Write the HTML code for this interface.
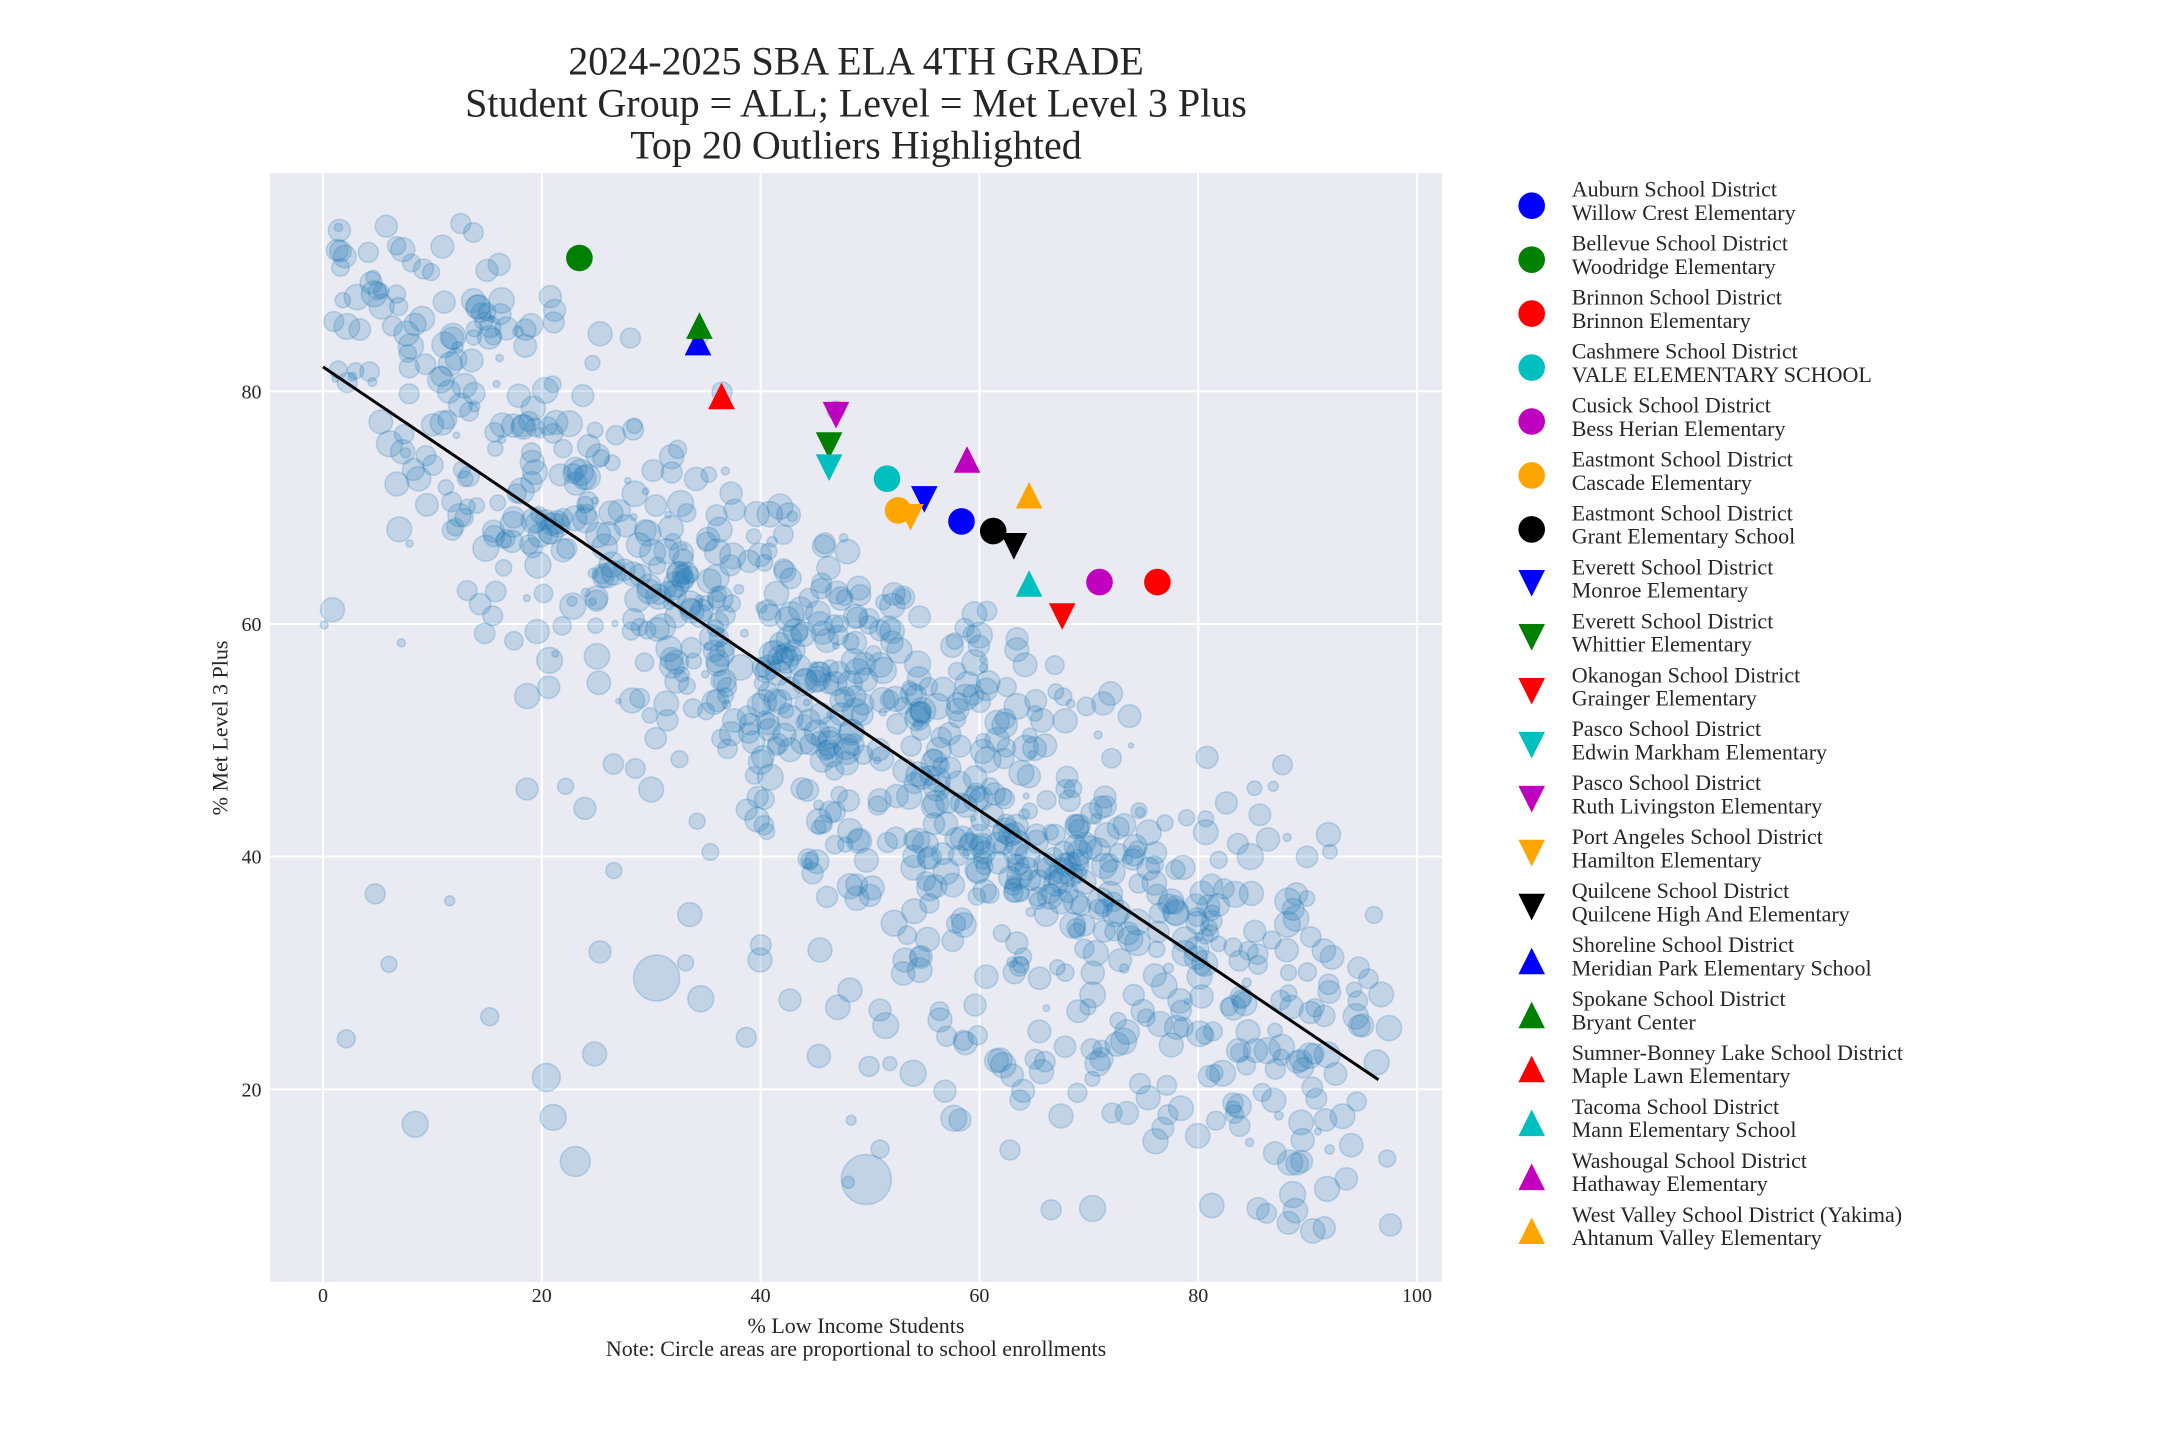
<!DOCTYPE html>
<html><head><meta charset="utf-8">
<style>
html,body{margin:0;padding:0;background:#fff;width:2160px;height:1440px;overflow:hidden;}
svg{display:block;}
text{font-family:"Liberation Serif","Times New Roman",serif;fill:#262626;}
</style></head><body>
<svg id="s" width="2160" height="1440" viewBox="0 0 2160 1440" xmlns="http://www.w3.org/2000/svg">
<defs><clipPath id="c"><rect x="270" y="173" width="1172" height="1109"/></clipPath></defs>
<rect x="270" y="173" width="1172" height="1109" fill="#eaeaf2"/>
<g stroke="#ffffff" stroke-width="2">
<line x1="323" y1="173" x2="323" y2="1282"/>
<line x1="541.8" y1="173" x2="541.8" y2="1282"/>
<line x1="760.6" y1="173" x2="760.6" y2="1282"/>
<line x1="979.4" y1="173" x2="979.4" y2="1282"/>
<line x1="1198.2" y1="173" x2="1198.2" y2="1282"/>
<line x1="1417" y1="173" x2="1417" y2="1282"/>
<line x1="270" y1="391.3" x2="1442" y2="391.3"/>
<line x1="270" y1="624" x2="1442" y2="624"/>
<line x1="270" y1="856.6" x2="1442" y2="856.6"/>
<line x1="270" y1="1089.3" x2="1442" y2="1089.3"/>
</g>
<g id="b" clip-path="url(#c)" fill="rgba(31,119,180,0.2)" stroke="rgba(31,119,180,0.22)" stroke-width="1.6"></g>
<line x1="323" y1="366.9" x2="1378.5" y2="1079.8" stroke="#000" stroke-width="3"/>

<!-- outlier markers -->
<g>
<circle cx="961.5" cy="521.4" r="13.3" fill="#0000ff"/>
<circle cx="579.4" cy="258.0" r="13.3" fill="#008000"/>
<circle cx="1157.4" cy="582.1" r="13.3" fill="#ff0000"/>
<circle cx="887.0" cy="478.7" r="13.3" fill="#00bfbf"/>
<circle cx="1099.5" cy="582.1" r="13.3" fill="#bf00bf"/>
<circle cx="898.1" cy="510.4" r="13.3" fill="#ffa500"/>
<circle cx="993.2" cy="531.1" r="13.3" fill="#000000"/>
<g transform="translate(924.3,499.4)"><polygon points="0,13.3 -13.3,-13.3 13.3,-13.3" fill="#0000ff"/></g>
<g transform="translate(829.1,445.6)"><polygon points="0,13.3 -13.3,-13.3 13.3,-13.3" fill="#008000"/></g>
<g transform="translate(1062.2,616.6)"><polygon points="0,13.3 -13.3,-13.3 13.3,-13.3" fill="#ff0000"/></g>
<g transform="translate(829.1,467.7)"><polygon points="0,13.3 -13.3,-13.3 13.3,-13.3" fill="#00bfbf"/></g>
<g transform="translate(836.0,415.2)"><polygon points="0,13.3 -13.3,-13.3 13.3,-13.3" fill="#bf00bf"/></g>
<g transform="translate(910.5,517.3)"><polygon points="0,13.3 -13.3,-13.3 13.3,-13.3" fill="#ffa500"/></g>
<g transform="translate(1013.9,546.3)"><polygon points="0,13.3 -13.3,-13.3 13.3,-13.3" fill="#000000"/></g>
<g transform="translate(698.0,342.1)"><polygon points="0,-13.3 -13.3,13.3 13.3,13.3" fill="#0000ff"/></g>
<g transform="translate(699.4,325.6)"><polygon points="0,-13.3 -13.3,13.3 13.3,13.3" fill="#008000"/></g>
<g transform="translate(721.5,395.9)"><polygon points="0,-13.3 -13.3,13.3 13.3,13.3" fill="#ff0000"/></g>
<g transform="translate(1029.1,583.5)"><polygon points="0,-13.3 -13.3,13.3 13.3,13.3" fill="#00bfbf"/></g>
<g transform="translate(967.0,459.4)"><polygon points="0,-13.3 -13.3,13.3 13.3,13.3" fill="#bf00bf"/></g>
<g transform="translate(1029.1,495.2)"><polygon points="0,-13.3 -13.3,13.3 13.3,13.3" fill="#ffa500"/></g>
</g>

<!-- tick labels -->
<g font-size="20" text-anchor="middle">
<text x="323" y="1302">0</text>
<text x="541.8" y="1302">20</text>
<text x="760.6" y="1302">40</text>
<text x="979.4" y="1302">60</text>
<text x="1198.2" y="1302">80</text>
<text x="1417" y="1302">100</text>
</g>
<g font-size="20" text-anchor="end">
<text x="261.5" y="398.3">80</text>
<text x="261.5" y="631">60</text>
<text x="261.5" y="863.6">40</text>
<text x="261.5" y="1096.3">20</text>
</g>
<g font-size="22" text-anchor="middle">
<text x="856" y="1333">% Low Income Students</text>
<text x="856" y="1356">Note: Circle areas are proportional to school enrollments</text>
<text transform="translate(227.5,728) rotate(-90)">% Met Level 3 Plus</text>
</g>
<g font-size="40" text-anchor="middle">
<text x="856" y="74.3">2024-2025 SBA ELA 4TH GRADE</text>
<text x="856" y="116.7">Student Group = ALL; Level = Met Level 3 Plus</text>
<text x="856" y="158.3">Top 20 Outliers Highlighted</text>
</g>

<!-- legend -->
<g font-size="22">
<g transform="translate(0,205.7)"><circle cx="1531.7" cy="0" r="13.3" fill="#0000ff"/><text x="1571.7" y="-9">Auburn School District</text><text x="1571.7" y="14.3">Willow Crest Elementary</text></g>
<g transform="translate(0,259.65)"><circle cx="1531.7" cy="0" r="13.3" fill="#008000"/><text x="1571.7" y="-9">Bellevue School District</text><text x="1571.7" y="14.3">Woodridge Elementary</text></g>
<g transform="translate(0,313.6)"><circle cx="1531.7" cy="0" r="13.3" fill="#ff0000"/><text x="1571.7" y="-9">Brinnon School District</text><text x="1571.7" y="14.3">Brinnon Elementary</text></g>
<g transform="translate(0,367.55)"><circle cx="1531.7" cy="0" r="13.3" fill="#00bfbf"/><text x="1571.7" y="-9">Cashmere School District</text><text x="1571.7" y="14.3">VALE ELEMENTARY SCHOOL</text></g>
<g transform="translate(0,421.5)"><circle cx="1531.7" cy="0" r="13.3" fill="#bf00bf"/><text x="1571.7" y="-9">Cusick School District</text><text x="1571.7" y="14.3">Bess Herian Elementary</text></g>
<g transform="translate(0,475.45)"><circle cx="1531.7" cy="0" r="13.3" fill="#ffa500"/><text x="1571.7" y="-9">Eastmont School District</text><text x="1571.7" y="14.3">Cascade Elementary</text></g>
<g transform="translate(0,529.4)"><circle cx="1531.7" cy="0" r="13.3" fill="#000000"/><text x="1571.7" y="-9">Eastmont School District</text><text x="1571.7" y="14.3">Grant Elementary School</text></g>
<g transform="translate(0,583.35)"><polygon points="1531.7,13.3 1518.4,-13.3 1545,-13.3" fill="#0000ff"/><text x="1571.7" y="-9">Everett School District</text><text x="1571.7" y="14.3">Monroe Elementary</text></g>
<g transform="translate(0,637.3)"><polygon points="1531.7,13.3 1518.4,-13.3 1545,-13.3" fill="#008000"/><text x="1571.7" y="-9">Everett School District</text><text x="1571.7" y="14.3">Whittier Elementary</text></g>
<g transform="translate(0,691.25)"><polygon points="1531.7,13.3 1518.4,-13.3 1545,-13.3" fill="#ff0000"/><text x="1571.7" y="-9">Okanogan School District</text><text x="1571.7" y="14.3">Grainger Elementary</text></g>
<g transform="translate(0,745.2)"><polygon points="1531.7,13.3 1518.4,-13.3 1545,-13.3" fill="#00bfbf"/><text x="1571.7" y="-9">Pasco School District</text><text x="1571.7" y="14.3">Edwin Markham Elementary</text></g>
<g transform="translate(0,799.15)"><polygon points="1531.7,13.3 1518.4,-13.3 1545,-13.3" fill="#bf00bf"/><text x="1571.7" y="-9">Pasco School District</text><text x="1571.7" y="14.3">Ruth Livingston Elementary</text></g>
<g transform="translate(0,853.1)"><polygon points="1531.7,13.3 1518.4,-13.3 1545,-13.3" fill="#ffa500"/><text x="1571.7" y="-9">Port Angeles School District</text><text x="1571.7" y="14.3">Hamilton Elementary</text></g>
<g transform="translate(0,907.05)"><polygon points="1531.7,13.3 1518.4,-13.3 1545,-13.3" fill="#000000"/><text x="1571.7" y="-9">Quilcene School District</text><text x="1571.7" y="14.3">Quilcene High And Elementary</text></g>
<g transform="translate(0,961.0)"><polygon points="1531.7,-13.3 1518.4,13.3 1545,13.3" fill="#0000ff"/><text x="1571.7" y="-9">Shoreline School District</text><text x="1571.7" y="14.3">Meridian Park Elementary School</text></g>
<g transform="translate(0,1014.95)"><polygon points="1531.7,-13.3 1518.4,13.3 1545,13.3" fill="#008000"/><text x="1571.7" y="-9">Spokane School District</text><text x="1571.7" y="14.3">Bryant Center</text></g>
<g transform="translate(0,1068.9)"><polygon points="1531.7,-13.3 1518.4,13.3 1545,13.3" fill="#ff0000"/><text x="1571.7" y="-9">Sumner-Bonney Lake School District</text><text x="1571.7" y="14.3">Maple Lawn Elementary</text></g>
<g transform="translate(0,1122.85)"><polygon points="1531.7,-13.3 1518.4,13.3 1545,13.3" fill="#00bfbf"/><text x="1571.7" y="-9">Tacoma School District</text><text x="1571.7" y="14.3">Mann Elementary School</text></g>
<g transform="translate(0,1176.8)"><polygon points="1531.7,-13.3 1518.4,13.3 1545,13.3" fill="#bf00bf"/><text x="1571.7" y="-9">Washougal School District</text><text x="1571.7" y="14.3">Hathaway Elementary</text></g>
<g transform="translate(0,1230.75)"><polygon points="1531.7,-13.3 1518.4,13.3 1545,13.3" fill="#ffa500"/><text x="1571.7" y="-9">West Valley School District (Yakima)</text><text x="1571.7" y="14.3">Ahtanum Valley Elementary</text></g>
</g>
</svg>
<script>
(function(){
var NS="http://www.w3.org/2000/svg";
var g=document.getElementById("b");
function X(v){return 323+10.94*v;}
function Y(v){return 1322-11.633*v;}
function mb(a){return function(){a|=0;a=a+0x6D2B79F5|0;var t=Math.imul(a^a>>>15,1|a);t=t+Math.imul(t^t>>>7,61|t)^t;return((t^t>>>14)>>>0)/4294967296;};}
var R=mb(20240425);
function G(){var u=R()||1e-9,v=R();return Math.sqrt(-2*Math.log(u))*Math.cos(6.2831853*v);}
function add(cx,cy,r){var c=document.createElementNS(NS,"circle");c.setAttribute("cx",cx.toFixed(1));c.setAttribute("cy",cy.toFixed(1));c.setAttribute("r",r.toFixed(1));g.appendChild(c);}
var w=[20,30,38,42,44,46,54,60,66,72,72,72,72,66,58,52,46,36,24,8],tot=0,i;
for(i=0;i<w.length;i++)tot+=w[i];
for(var n=0;n<1020;n++){
  var u=R()*tot,k=0;while(k<w.length-1&&u>w[k]){u-=w[k];k++;}
  var x=k*5+R()*5;if(x<0.8)x=0.8+R()*4;if(x>97.5)x=95+R()*2.5;
  var off=Math.max(0,6.5-0.19*x);
  var sd=x<35?8:(x<80?9.5:9);
  var hi=x<25?95:92-0.5*x, lo=Math.max(7.5,75-1.2*x);
  var y,tries=0;
  do{y=82.1-0.634*x+off+G()*sd;tries++;}while((y>hi||y<lo)&&tries<80);
  if(y>hi)y=hi-R()*5; if(y<lo)y=lo+R()*5;
  var r=R()<0.08?2.5+R()*3:7+6*Math.pow(R(),0.6);
  add(X(x),Y(y),r);
}
var P=[[656.6,978.1,23],[866.3,1179.5,25],[575.3,1161.5,15],[546.3,1077.4,14],[553.2,1117.4,13],[415.2,1124.3,13],
[594.6,1054,12],[600,951.9,11],[375.2,893.9,10],[346.3,1038.8,9],[389,964.3,8],[489.7,1016.7,9],[449.7,900.8,5],
[613.9,870.5,8],[332.5,609.7,12],[324.2,624.9,4],[401.4,642.8,4],[527,789,11],[565.6,786.3,8],[584.9,808.4,11],
[700.8,998.8,13],[689.8,914.6,12],[685.6,962.9,8],[746.3,1037.4,10],[848.4,1182.2,6],[851.2,1120.2,5],[880.1,1149.1,9],
[869.1,1066.4,10],[913.2,1073.3,13],[889.8,1063.6,7],[945,1091.2,11],[1051.2,1209.8,10],[1092.6,1208.5,13],
[1390.5,1225,11],[1324.3,1227.8,11],[1292.6,1194.6,13],[1258.1,1208.5,11],[1328.5,834.6,12],[1273.3,786.3,5],
[1287.1,837.4,4],[1207.1,757.4,11],[1226.4,802.9,11],[339.4,230.4,11],[386.3,226.2,11],[460.8,223.5,10],
[402.8,249.7,12],[487,270.4,11],[550.4,296.6,11],[554.6,310.4,11],[600.1,333.8,12],[630.4,338,10],
[368.3,252.4,10],[371.1,282.8,11],[423.5,269,10],[444.2,302.1,11],[452.5,338,11],[1077,827,12],[1105,797,11],
[1168,904,10],[1196,905,11],[1061,1116,12],[1112,1113,10],[760,960,12],[790,1000,11],[820,950,12],[850,990,12],
[880,1010,11],[905,960,12],[940,1020,12],[975,1005,11],[1000,1060,12],[1020,1100,10],[960,1120,11],[1010,1150,10],
[836,410,9],[722,392,10],[700,335,9]];
for(i=0;i<P.length;i++)add(P[i][0],P[i][1],P[i][2]);
})();
</script>
</body></html>
